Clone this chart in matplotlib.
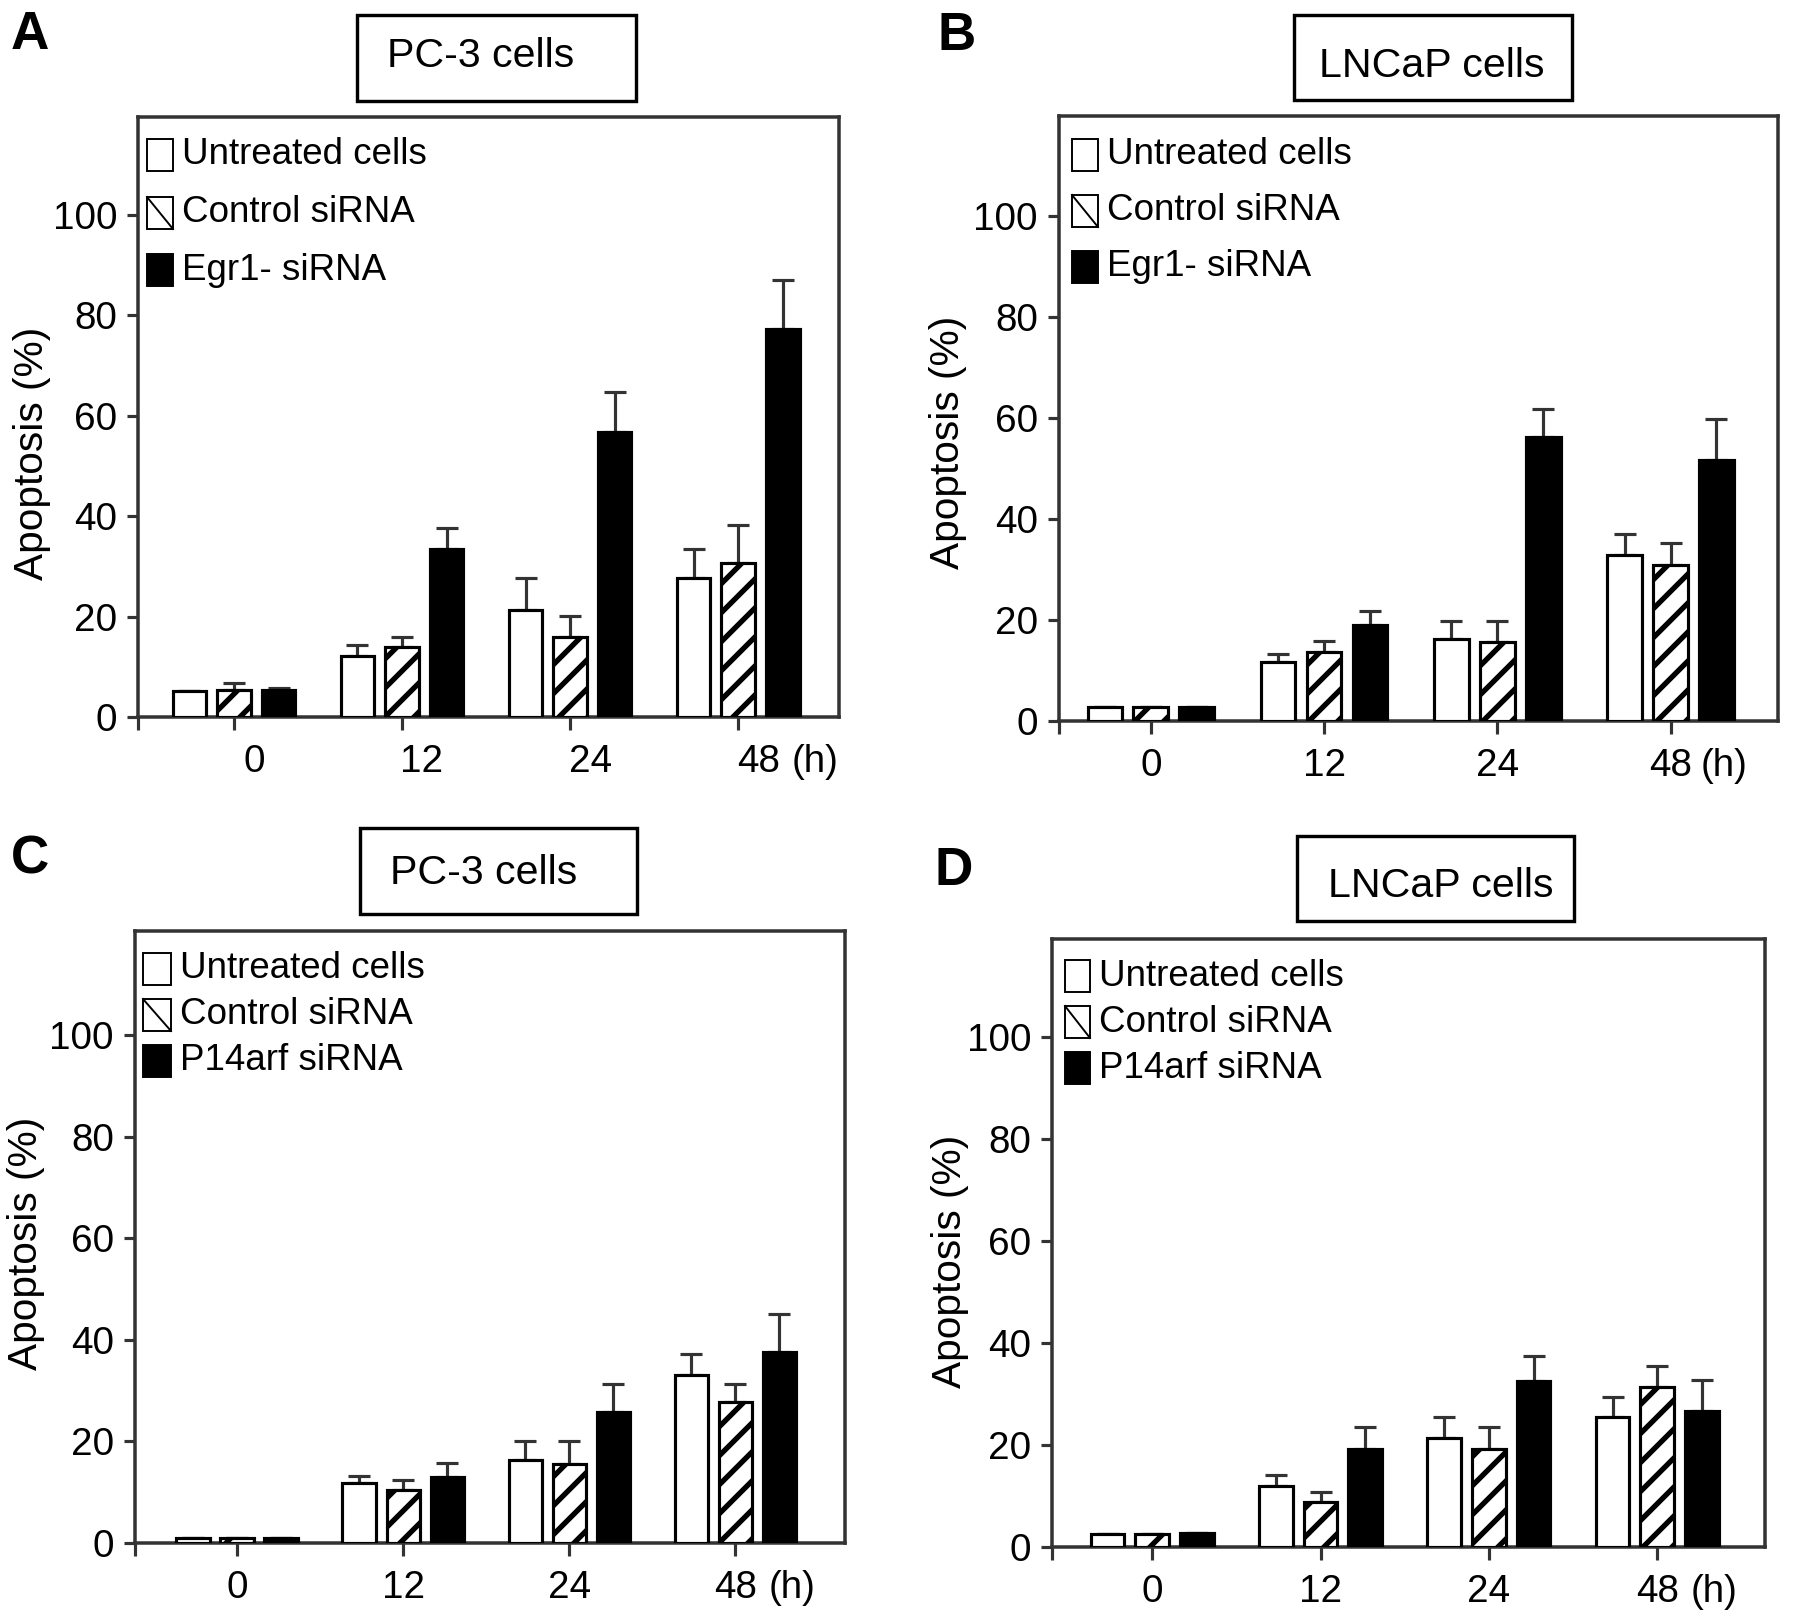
import numpy as np
import matplotlib
matplotlib.use('Agg')
import matplotlib.pyplot as plt
import matplotlib.transforms as mtransforms
from matplotlib.patches import Rectangle
from matplotlib.lines import Line2D

# --- data (apoptosis %) ---
hours = ['0', '12', '24', '48']

a_untreated = [5.1, 12.2, 21.4, 27.6]
a_untreated_err = [0.0, 2.1, 6.2, 5.9]
a_control = [5.4, 14.0, 16.0, 30.6]
a_control_err = [1.4, 2.0, 4.2, 7.7]
a_egr1 = [5.4, 33.5, 56.8, 77.3]
a_egr1_err = [0.4, 4.1, 8.0, 9.7]

b_untreated = [2.7, 11.7, 16.2, 32.9]
b_untreated_err = [0.0, 1.5, 3.6, 4.1]
b_control = [2.7, 13.7, 15.7, 30.9]
b_control_err = [0.0, 2.2, 4.1, 4.4]
b_egr1 = [2.8, 19.0, 56.2, 51.7]
b_egr1_err = [0.0, 2.8, 5.6, 8.1]

c_untreated = [1.0, 11.8, 16.4, 33.1]
c_untreated_err = [0.0, 1.3, 3.6, 4.1]
c_control = [1.0, 10.5, 15.6, 27.7]
c_control_err = [0.0, 2.0, 4.4, 3.6]
c_p14arf = [1.0, 13.0, 25.8, 37.7]
c_p14arf_err = [0.0, 2.7, 5.5, 7.4]

d_untreated = [2.6, 12.0, 21.3, 25.4]
d_untreated_err = [0.0, 2.1, 4.1, 4.1]
d_control = [2.6, 8.9, 19.3, 31.3]
d_control_err = [0.0, 1.8, 4.3, 4.1]
d_p14arf = [2.8, 19.3, 32.6, 26.7]
d_p14arf_err = [0.0, 4.2, 4.8, 6.1]

egr1_labels = ['Untreated cells', 'Control siRNA', 'Egr1- siRNA']
p14_labels = ['Untreated cells', 'Control siRNA', 'P14arf siRNA']

plt.rcParams['font.family'] = ['Liberation Sans', 'DejaVu Sans']
plt.rcParams['hatch.linewidth'] = 2.2
plt.rcParams['hatch.color'] = 'black'

DPI = 174
W, H = 1795, 1619
PT = 72 / DPI  # points per pixel
SPINE = '#333333'
TICK_FS = 16

fig = plt.figure(figsize=(W / DPI, H / DPI), dpi=DPI)


def fx(x):
    return x / W


def fy(y):
    return 1 - y / H


def draw_panel(p):
    l, r, t, b = p['rect']
    ax = fig.add_axes([fx(l), fy(b), (r - l) / W, (b - t) / H])
    x = np.arange(len(hours))
    offsets = [-0.265, 0.0, 0.265]
    faces = ['white', 'white', 'black']
    hatches = [None, '//', None]
    for k in range(3):
        ax.bar(x + offsets[k], p['values'][k], width=0.2, color=faces[k],
               edgecolor='black', linewidth=1.3, hatch=hatches[k], zorder=3)
        ax.errorbar(x + offsets[k], p['values'][k],
                    yerr=[np.zeros(len(hours)), p['errors'][k]], fmt='none',
                    ecolor=SPINE, elinewidth=1.3, capsize=4.6, capthick=1.3,
                    zorder=2)

    ax.set_xlim(*p['xlim'])
    ax.set_ylim(0, p['ytop'])
    ax.set_yticks([0, 20, 40, 60, 80, 100])
    ax.set_xticks(x)
    ax.set_xticklabels(hours)
    ax.set_xticks([p['xlim'][0]], minor=True)
    for s in ax.spines.values():
        s.set_linewidth(1.45)
        s.set_color(SPINE)
    ax.tick_params(axis='y', direction='out', length=11 * PT, width=1.3,
                   color=SPINE, pad=10 * PT, labelsize=TICK_FS)
    ax.tick_params(axis='x', which='both', direction='out', length=13 * PT,
                   width=1.3, color=SPINE, pad=14 * PT, labelsize=TICK_FS)

    if p['label_shift']:
        shift = mtransforms.ScaledTranslation(p['label_shift'] / DPI, 0,
                                              fig.dpi_scale_trans)
        for lbl in ax.get_xticklabels():
            lbl.set_transform(lbl.get_transform() + shift)
    ax.annotate('(h)', xy=(x[-1], 0), xycoords=ax.get_xaxis_transform(),
                xytext=(p['h_dx'] * PT, -27 * PT), textcoords='offset points',
                ha='left', va='top', fontsize=TICK_FS)

    ax.set_ylabel('Apoptosis (%)', fontsize=16.8)
    ax.yaxis.label.set_va('center')
    ax.yaxis.set_label_coords(*p['ylab'])

    # legend, drawn as in the original (small boxes + text)
    bl, br = p['leg_box']
    for k, (cy, lab) in enumerate(zip(p['leg_rows'], p['labels'])):
        bh = 32
        rect = Rectangle((fx(bl), fy(cy + bh / 2)), (br - bl) / W, bh / H,
                         transform=fig.transFigure, facecolor=faces[k],
                         edgecolor='black', linewidth=0.8)
        fig.add_artist(rect)
        if k == 1:
            fig.add_artist(Line2D([fx(bl), fx(br)], [fy(cy - bh / 2), fy(cy + bh / 2)],
                                  transform=fig.transFigure, color='black',
                                  linewidth=0.8))
        fig.text(fx(p['leg_text']), fy(cy), lab, ha='left', va='center',
                 fontsize=15.2)

    # title box
    tl, tr, tt, tb = p['tbox']
    fig.add_artist(Rectangle((fx(tl), fy(tb)), (tr - tl) / W, (tb - tt) / H,
                             transform=fig.transFigure, facecolor='none',
                             edgecolor='black', linewidth=1.4))
    fig.text(fx(p['ttext'][0]), fy(p['ttext'][1]), p['title'], ha='center',
             va='baseline', fontsize=17)
    fig.text(fx(p['letter_xy'][0]), fy(p['letter_xy'][1]), p['letter'],
             ha='left', va='baseline', fontsize=22, fontweight='bold')
    return ax


panels = [
    dict(rect=(138, 839, 117, 717), xlim=(-0.571, 3.60), ytop=119.5,
         values=[a_untreated, a_control, a_egr1],
         errors=[a_untreated_err, a_control_err, a_egr1_err],
         labels=egr1_labels, label_shift=20, h_dx=53, ylab=(-0.151, 0.44),
         leg_box=(147, 173), leg_rows=[155, 213, 270], leg_text=182,
         tbox=(357, 636, 15, 101), ttext=(481, 67), title='PC-3 cells',
         letter='A', letter_xy=(11, 49)),
    dict(rect=(1059, 1778, 116, 721), xlim=(-0.53, 3.62), ytop=119.8,
         values=[b_untreated, b_control, b_egr1],
         errors=[b_untreated_err, b_control_err, b_egr1_err],
         labels=egr1_labels, label_shift=0, h_dx=30, ylab=(-0.154, 0.46),
         leg_box=(1072, 1098), leg_rows=[155, 211, 267], leg_text=1107,
         tbox=(1294, 1572, 15, 100), ttext=(1432, 77), title='LNCaP cells',
         letter='B', letter_xy=(937, 50)),
    dict(rect=(135, 845, 931, 1543), xlim=(-0.614, 3.66), ytop=120.5,
         values=[c_untreated, c_control, c_p14arf],
         errors=[c_untreated_err, c_control_err, c_p14arf_err],
         labels=p14_labels, label_shift=0, h_dx=33, ylab=(-0.154, 0.49),
         leg_box=(143, 171), leg_rows=[969, 1015, 1061], leg_text=180,
         tbox=(360, 637, 828, 914), ttext=(484, 884), title='PC-3 cells',
         letter='C', letter_xy=(11, 874)),
    dict(rect=(1052, 1765, 939, 1547), xlim=(-0.595, 3.64), ytop=119.2,
         values=[d_untreated, d_control, d_p14arf],
         errors=[d_untreated_err, d_control_err, d_p14arf_err],
         labels=p14_labels, label_shift=0, h_dx=33, ylab=(-0.143, 0.47),
         leg_box=(1065, 1090), leg_rows=[976, 1022, 1068], leg_text=1099,
         tbox=(1297, 1574, 836, 921), ttext=(1441, 897), title='LNCaP cells',
         letter='D', letter_xy=(935, 885)),
]

for p in panels:
    draw_panel(p)

fig.savefig('out.png', dpi=DPI)
